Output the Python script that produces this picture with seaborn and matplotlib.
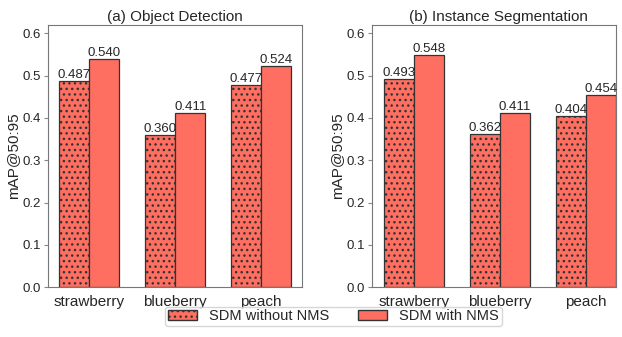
import pandas as pd
import numpy as np
import seaborn as sns
import matplotlib.pyplot as plt
from matplotlib.patches import Patch

fruits = ["strawberry", "blueberry", "peach"]
methods = ["SDM without NMS", "SDM with NMS"]
det_without = [0.487, 0.360, 0.477]
det_with = [0.540, 0.411, 0.524]
seg_without = [0.493, 0.362, 0.404]
seg_with = [0.548, 0.411, 0.454]
titles = ["(a) Object Detection", "(b) Instance Segmentation"]

sns.set_style("white")
plt.rcParams["font.family"] = ["Liberation Sans", "DejaVu Sans"]
plt.rcParams["hatch.linewidth"] = 1.0
color = "#ff6f61"
hatch = "..."

def make_df(a, b):
    return pd.DataFrame({
        "fruit": fruits * 2,
        "method": [methods[0]] * 3 + [methods[1]] * 3,
        "value": a + b,
    })

fig = plt.figure(figsize=(6.22, 3.37), dpi=100)
# right panel is clipped at the right edge in the original
ax1 = fig.add_axes([0.077, 0.148, 0.408, 0.778])
ax2 = fig.add_axes([0.598, 0.148, 0.392, 0.778])
axes = [ax1, ax2]
data = [make_df(det_without, det_with), make_df(seg_without, seg_with)]

for ax, df, title, tx in zip(axes, data, titles, [0.5, 0.52]):
    sns.barplot(data=df, x="fruit", y="value", hue="method", order=fruits,
                hue_order=methods, palette=[color, color], saturation=1,
                width=0.7, edgecolor="#333333", linewidth=0.9, ax=ax,
                legend=False)
    for cont, h in zip(ax.containers, [hatch, ""]):
        for bar in cont:
            bar.set_hatch(h)
        ax.bar_label(cont, fmt="%.3f", fontsize=9.5, padding=0)
    ax.set_ylim(0, 0.62)
    ax.set_yticks(np.arange(0, 0.61, 0.1))
    ax.set_title(title, fontsize=11, pad=3, x=tx)
    ax.set_xlabel("")
    ax.set_ylabel("mAP@50:95", fontsize=11, labelpad=2)
    ax.tick_params(axis="y", labelsize=9.5, length=3, left=True,
                   color="#888888", pad=2)
    ax.tick_params(axis="x", labelsize=11, bottom=False, pad=2)
    for s in ax.spines.values():
        s.set_color("#777777")

ax1.set_xlim(-0.48, 2.47)
ax2.set_xlim(-0.49, 2.35)

handles = [Patch(facecolor=color, edgecolor="#333333", hatch=hatch, label=methods[0]),
           Patch(facecolor=color, edgecolor="#333333", label=methods[1])]
fig.legend(handles=handles, loc="lower center", ncol=2, fontsize=10.5,
           bbox_to_anchor=(0.536, 0.01), frameon=True, columnspacing=2.0,
           handleheight=0.7, borderpad=0.2)

fig.savefig("out.png", dpi=100)
